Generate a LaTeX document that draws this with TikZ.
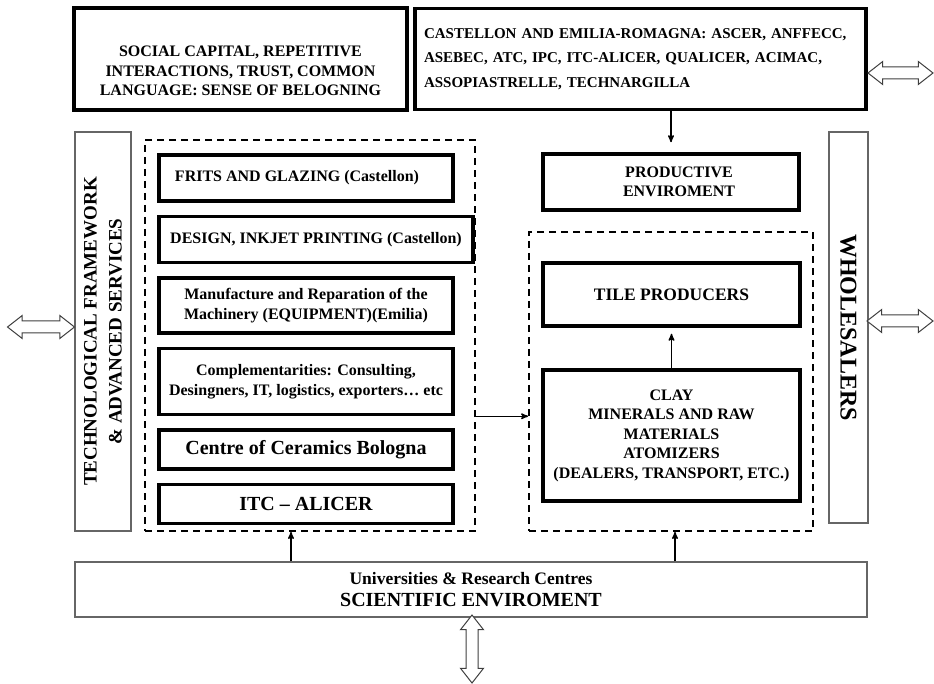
\documentclass[tikz,border=0pt]{standalone}
\usepackage{fontspec}
\setmainfont{Liberation Serif}
\usetikzlibrary{arrows,positioning,shapes.arrows}

\begin{document}
\begin{tikzpicture}[x=1pt,y=-1pt,>=stealth',node distance=12pt,font=\bfseries\fontsize{16}{19.5}\selectfont]
\tikzstyle{thick box}=[draw,line width=3.5pt,inner sep=0pt,align=center]
\tikzstyle{thin box}=[draw=black!60,line width=1.2pt,inner sep=0pt,align=center]
\tikzstyle{dash box}=[draw,line width=1.8pt,dash pattern=on 7pt off 5pt]
\tikzstyle{dbl}=[double arrow,draw=black!75,line width=1pt,fill=white,double arrow head extend=5.5pt,double arrow tip angle=76,inner sep=0pt]
\tikzstyle{link}=[->,line width=1.4pt]
\useasboundingbox (0,0) rectangle (934,684);

% top row
\node[thick box,minimum width=333pt,minimum height=102pt,label={[yshift=-12pt,align=center]center:SOCIAL CAPITAL, REPETITIVE\\INTERACTIONS, TRUST, COMMON\\LANGUAGE: SENSE OF BELOGNING}] (social) at (240.5,59) {};
\node[thick box,minimum width=451pt,minimum height=101pt,text width=433pt,align=left,font=\bfseries\fontsize{15}{24.5}\selectfont] (assoc) at (640.5,59) {CASTELLON AND EMILIA-ROMAGNA: ASCER, ANFFECC,\\ASEBEC, ATC, IPC, ITC-ALICER, QUALICER, ACIMAC,\\ASSOPIASTRELLE, TECHNARGILLA};

% side bars
\node[thin box,rotate=90,minimum width=399pt,minimum height=56pt,font=\bfseries\fontsize{19}{25}\selectfont] (tech) at (103,331.5) {TECHNOLOGICAL FRAMEWORK\\\& ADVANCED SERVICES};
\node[thin box,rotate=-90,minimum width=391pt,minimum height=39pt,font=\bfseries\fontsize{24}{28}\selectfont] (wholesale) at (848.5,327.5) {WHOLESALERS};

% left cluster
\node[dash box,minimum width=330pt,minimum height=391pt] (cluster) at (310,335.5) {};
\node[thick box,minimum width=294pt,minimum height=46pt] (frits) at (306,178) {FRITS AND GLAZING (Castellon)\hspace*{18pt}};
\node[thick box,minimum width=314pt,minimum height=46pt,below=of frits.south west,anchor=north west] (design) {DESIGN, INKJET PRINTING (Castellon)};
\node[thick box,minimum width=294pt,minimum height=55pt,below=of design.south west,anchor=north west] (machinery) {Manufacture and Reparation of the\\Machinery (EQUIPMENT)(Emilia)};
\node[thick box,minimum width=294pt,minimum height=66pt,below=of machinery.south west,anchor=north west] (complement) {Complementarities: Consulting,\\Desingners, IT, logistics, exporters\ldots\ etc};
\node[thick box,minimum width=294pt,minimum height=39pt,below=of complement.south west,anchor=north west,font=\bfseries\fontsize{20}{24}\selectfont] (bologna) {Centre of Ceramics Bologna};
\node[thick box,minimum width=294pt,minimum height=39pt,below=of bologna.south west,anchor=north west,font=\bfseries\fontsize{20}{24}\selectfont] (itc) {ITC -- ALICER};

% right cluster
\node[thick box,minimum width=256pt,minimum height=56pt] (productive) at (671,182) {\hspace*{16pt}PRODUCTIVE\\\hspace*{16pt}ENVIROMENT};
\node[dash box,minimum width=284pt,minimum height=299pt] (rcluster) at (671,381.5) {};
\node[thick box,minimum width=257pt,minimum height=63pt,font=\bfseries\fontsize{17.5}{20}\selectfont] (tile) at (671.5,294.5) {TILE PRODUCERS};
\node[thick box,minimum width=257pt,minimum height=131pt,below=40.5pt of tile] (clay) {CLAY\\MINERALS AND RAW\\MATERIALS\\ATOMIZERS\\(DEALERS, TRANSPORT, ETC.)};

% bottom
\node[thin box,minimum width=792pt,minimum height=55pt,font=\bfseries\fontsize{20}{22.5}\selectfont] (sci) at (471,589.5) {{\fontsize{17.5}{22.5}\selectfont Universities \& Research Centres}\\SCIENTIFIC ENVIROMENT};

% outside links
\node[dbl,minimum height=67pt] (wleft) at (41,327) {\rule{0pt}{11pt}};
\node[dbl,minimum height=65pt] (wtop) at (900.5,73) {\rule{0pt}{11pt}};
\node[dbl,minimum height=66pt] (wright) at (900,321) {\rule{0pt}{11pt}};
\node[dbl,minimum height=68pt,rotate=90] (wbottom) at (472,649) {\rule{0pt}{11pt}};

\draw[link,shorten >=10pt] (productive.north |- assoc.south) -- (productive.north);
\draw[link,shorten >=6pt] (clay) -- (tile);
\draw[link] (cluster.east |- complement.south) -- (complement.south -| rcluster.west);
\draw[link] ([xshift=-19pt]cluster.south |- sci.north) -- ([xshift=-19pt]cluster.south);
\draw[link] ([xshift=4pt]rcluster.south |- sci.north) -- ([xshift=4pt]rcluster.south);
\end{tikzpicture}
\end{document}
